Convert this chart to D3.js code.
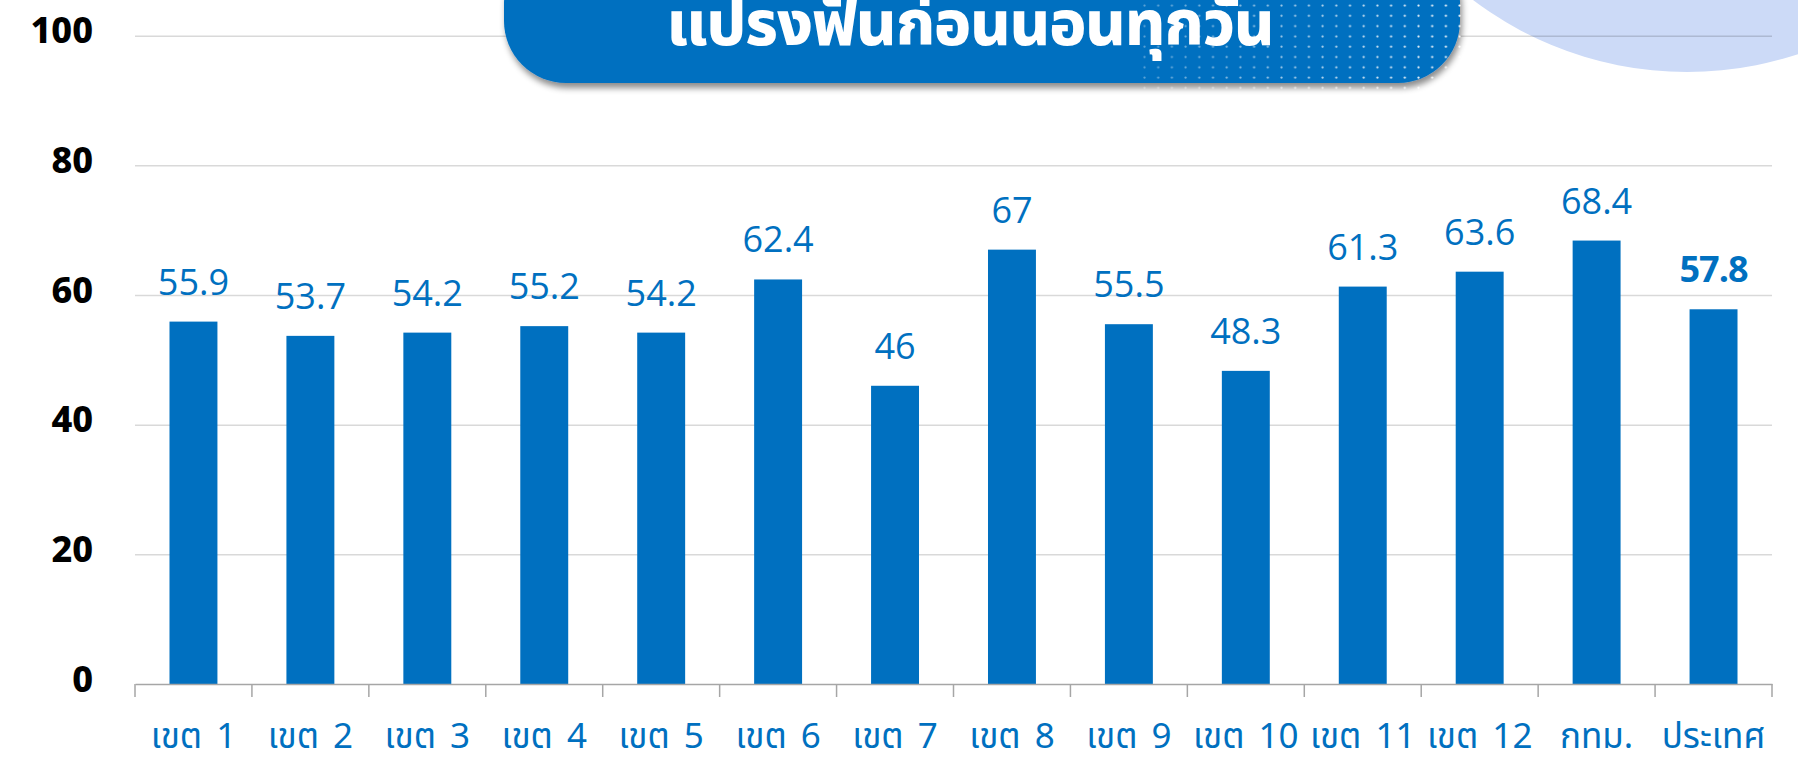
<!DOCTYPE html>
<html>
<head>
<meta charset="utf-8">
<script src="https://cdn.jsdelivr.net/npm/d3@7"></script>
<style>
  body { margin: 0; background: #fff; }
  svg { display: block; }
</style>
</head>
<body>
<script>
// data
var regions = ['เขต 1', 'เขต 2', 'เขต 3', 'เขต 4', 'เขต 5', 'เขต 6', 'เขต 7', 'เขต 8', 'เขต 9', 'เขต 10', 'เขต 11', 'เขต 12', 'กทม.', 'ประเทศ'];
var values = [55.9, 53.7, 54.2, 55.2, 54.2, 62.4, 46, 67, 55.5, 48.3, 61.3, 63.6, 68.4, 57.8];
var yTicks = [0, 20, 40, 60, 80, 100];
var title = 'แปรงฟันก่อนนอนทุกวัน';

var width = 1798, height = 761;
var blue = '#0070C0';
var thai = '"Noto Sans Thai", "Noto Sans Thai Looped", "Noto Sans", sans-serif';

var svg = d3.select('body').append('svg')
    .attr('width', width)
    .attr('height', height);

var defs = svg.append('defs');

// shadow under the title pill
var shadow = defs.append('filter').attr('id', 'shadow')
    .attr('x', '-10%').attr('y', '-10%').attr('width', '120%').attr('height', '130%');
shadow.append('feDropShadow')
    .attr('dx', 2).attr('dy', 5).attr('stdDeviation', 3)
    .attr('flood-color', '#000').attr('flood-opacity', 0.45);

// dot pattern on right part of pill
var pat = defs.append('pattern').attr('id', 'dots')
    .attr('patternUnits', 'userSpaceOnUse')
    .attr('x', 1143).attr('y', 4)
    .attr('width', 13.7).attr('height', 10.3);
pat.append('circle').attr('cx', 1.5).attr('cy', 1.5).attr('r', 1.1).attr('fill', '#fff');

var grad = defs.append('linearGradient').attr('id', 'fade')
    .attr('x1', '0%').attr('x2', '100%');
grad.append('stop').attr('offset', '0%').attr('stop-color', '#fff').attr('stop-opacity', 0.35);
grad.append('stop').attr('offset', '100%').attr('stop-color', '#fff').attr('stop-opacity', 1);
var mask = defs.append('mask').attr('id', 'fadeMask');
mask.append('rect').attr('x', 1140).attr('y', 0).attr('width', 330).attr('height', 92)
    .attr('fill', 'url(#fade)');

// light blue circle, top right
svg.append('circle')
    .attr('cx', 1687).attr('cy', -282).attr('r', 354)
    .attr('fill', '#CCDAF7');

// scales
var x = d3.scaleBand()
    .domain(regions)
    .range([135, 1772])
    .paddingInner(0.59)
    .paddingOuter(0.295);

var y = d3.scaleLinear()
    .domain([0, 100])
    .range([684, 35.7]);

// y axis + gridlines
var yAxis = d3.axisLeft(y)
    .tickValues(yTicks)
    .tickSize(-(1772 - 135))
    .tickPadding(42);

var yG = svg.append('g')
    .attr('transform', 'translate(135,0)')
    .call(yAxis);
yG.select('.domain').remove();
yG.selectAll('.tick line')
    .attr('stroke', '#000')
    .attr('stroke-opacity', 0.15)
    .attr('stroke-width', 1.5);
yG.selectAll('.tick text')
    .attr('dy', '0.2em')
    .style('font-family', '"Noto Sans", sans-serif')
    .style('font-weight', 800)
    .style('font-size', '36px')
    .attr('fill', '#000');
// hide the 0 gridline, the axis line goes there
yG.selectAll('.tick').filter(function(d) { return d === 0; }).select('line').remove();

// bars
svg.append('g').selectAll('rect')
    .data(values)
    .join('rect')
    .attr('x', function(d, i) { return x(regions[i]); })
    .attr('y', function(d) { return y(d); })
    .attr('width', x.bandwidth())
    .attr('height', function(d) { return y(0) - y(d); })
    .attr('fill', blue);

// value labels
svg.append('g').selectAll('text')
    .data(values)
    .join('text')
    .attr('x', function(d, i) { return x(regions[i]) + x.bandwidth() / 2; })
    .attr('y', function(d) { return y(d) - 27; })
    .attr('text-anchor', 'middle')
    .attr('fill', blue)
    .style('font-family', '"Open Sans", "Noto Sans", sans-serif')
    .style('font-size', '36px')
    .style('font-weight', function(d, i) { return i === values.length - 1 ? 700 : 400; })
    .style('letter-spacing', function(d, i) { return i === values.length - 1 ? '-1px' : '0'; })
    .text(function(d) { return d; });

// x axis: ticks sit on band boundaries
var xAxis = d3.axisBottom(x).tickSize(0);
var xG = svg.append('g')
    .attr('transform', 'translate(0,' + y(0) + ')')
    .call(xAxis);
xG.select('.domain').attr('stroke', '#A6A6A6').attr('stroke-width', 1.5);
xG.selectAll('.tick text')
    .attr('fill', blue)
    .attr('dy', 0)
    .attr('y', 64)
    .style('font-family', thai)
    .style('font-size', '35px')
    .style('word-spacing', '5px');

var bounds = regions.map(function(r) { return x(r) - x.step() * x.paddingInner() / 2; });
bounds.push(x.range()[1]);
xG.selectAll('.bound')
    .data(bounds)
    .join('line')
    .attr('class', 'bound')
    .attr('x1', function(d) { return d; })
    .attr('x2', function(d) { return d; })
    .attr('y1', 0)
    .attr('y2', 13)
    .attr('stroke', '#A6A6A6')
    .attr('stroke-width', 1.5);

// title pill
var pill = svg.append('g');
pill.append('rect')
    .attr('x', 504).attr('y', -60)
    .attr('width', 956).attr('height', 143)
    .attr('rx', 62)
    .attr('fill', blue)
    .attr('filter', 'url(#shadow)');
pill.append('rect')
    .attr('x', 1140).attr('y', 0).attr('width', 330).attr('height', 92)
    .attr('fill', 'url(#dots)')
    .attr('mask', 'url(#fadeMask)');
pill.append('text')
    .attr('x', 970).attr('y', 45)
    .attr('text-anchor', 'middle')
    .attr('fill', '#fff')
    .style('font-family', thai)
    .style('font-weight', 800)
    .style('font-size', '62px')
    .style('letter-spacing', '-1px')
    .text(title);
</script>
</body>
</html>
